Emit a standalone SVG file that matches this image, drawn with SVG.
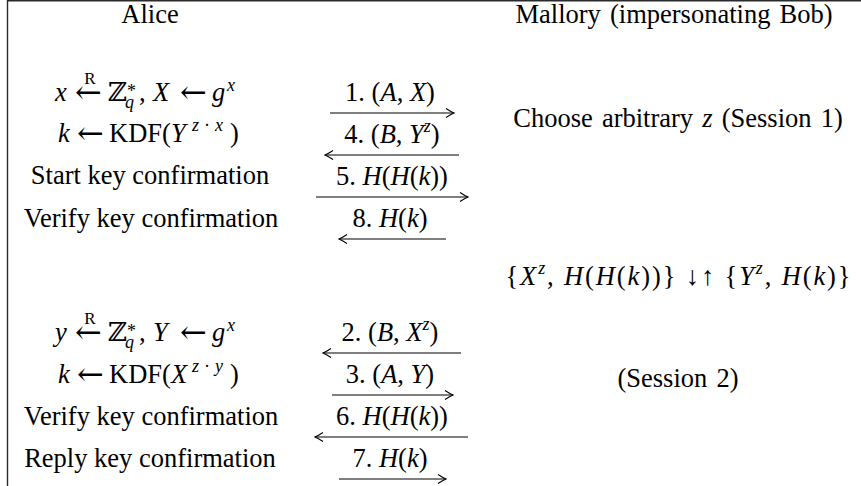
<svg xmlns="http://www.w3.org/2000/svg" width="861" height="486" viewBox="0 0 861 486">
<style>
.t{font-family:"Liberation Serif","DejaVu Serif",serif;font-size:26.5px;fill:#000}
.i{font-style:italic}
.s{font-size:18px}
.r{font-size:17px}
.ar{font-family:"DejaVu Serif",serif;font-size:32px}
.c{text-anchor:middle}
.ws{word-spacing:2.5px}
.ln{stroke:#000;stroke-width:1.1;fill:none;marker-end:url(#tip)}
.frame{stroke:#2a2a2a;stroke-width:1.4}
</style>
<defs>
<marker id="tip" markerUnits="userSpaceOnUse" viewBox="-10 -6 12 12" refX="0" refY="0" markerWidth="12" markerHeight="12" orient="auto">
<path d="M-8,-4.5 Q-3,-1.2 0,0 Q-3,1.2 -8,4.5" stroke="#000" stroke-width="1.1" fill="none"/>
</marker>
</defs>
<rect width="861" height="486" fill="#fff"/>
<g id="frame">
<line class="frame" x1="7" y1="0.7" x2="861" y2="0.7"/>
<line class="frame" x1="7.5" y1="0" x2="7.5" y2="486"/>
</g>

<g id="alice-header"><text class="t c" x="150" y="23">Alice</text></g>
<g id="mallory-header"><text class="t c ws" x="674" y="23">Mallory (impersonating Bob)</text></g>

<g id="alice-s1-choose">
<text class="t" y="101"><tspan class="i" x="55">x</tspan><tspan class="ar" x="75" y="103">←</tspan><tspan x="108" y="101">ℤ</tspan><tspan class="s" x="127" y="97">*</tspan><tspan class="s i" x="125" y="108">q</tspan><tspan x="139" y="101">,</tspan><tspan class="i" x="153">X</tspan><tspan class="ar" x="180" y="103">←</tspan><tspan class="i" x="212" y="101">g</tspan><tspan class="s i" x="227" y="91">x</tspan></text>
<text class="t r c" x="90" y="84">R</text>
</g>
<g id="alice-s1-key">
<text class="t" y="142"><tspan class="i" x="58">k</tspan><tspan class="ar" x="77" y="144">←</tspan><tspan x="109" y="142">KDF(</tspan><tspan class="i" x="171">Y</tspan><tspan class="s i" x="192" y="131">z</tspan><tspan class="s" x="204" y="131">·</tspan><tspan class="s i" x="215" y="131">x</tspan><tspan x="230" y="142">)</tspan></text>
</g>
<g id="alice-s1-start"><text class="t c" x="150" y="184">Start key confirmation</text></g>
<g id="alice-s1-verify"><text class="t c" x="151" y="227">Verify key confirmation</text></g>

<g id="alice-s2-choose">
<text class="t" y="341"><tspan class="i" x="55">y</tspan><tspan class="ar" x="75" y="343">←</tspan><tspan x="108" y="341">ℤ</tspan><tspan class="s" x="127" y="337">*</tspan><tspan class="s i" x="125" y="348">q</tspan><tspan x="139" y="341">,</tspan><tspan class="i" x="153">Y</tspan><tspan class="ar" x="180" y="343">←</tspan><tspan class="i" x="212" y="341">g</tspan><tspan class="s i" x="227" y="331">x</tspan></text>
<text class="t r c" x="90" y="324">R</text>
</g>
<g id="alice-s2-key">
<text class="t" y="383"><tspan class="i" x="58">k</tspan><tspan class="ar" x="77" y="385">←</tspan><tspan x="109" y="383">KDF(</tspan><tspan class="i" x="171">X</tspan><tspan class="s i" x="192" y="372">z</tspan><tspan class="s" x="204" y="372">·</tspan><tspan class="s i" x="215" y="372">y</tspan><tspan x="230" y="383">)</tspan></text>
</g>
<g id="alice-s2-verify"><text class="t c" x="151" y="425">Verify key confirmation</text></g>
<g id="alice-s2-reply"><text class="t c" x="150" y="467">Reply key confirmation</text></g>

<g id="mallory-s1"><text class="t c ws" x="678" y="127">Choose arbitrary <tspan class="i">z</tspan> (Session 1)</text></g>
<g id="mallory-relay"><text class="t c" x="678" y="285" textLength="345" lengthAdjust="spacing">{<tspan class="i">X</tspan><tspan class="s i" dy="-11">z</tspan><tspan dy="11">, </tspan><tspan class="i">H</tspan>(<tspan class="i">H</tspan>(<tspan class="i">k</tspan>))} ↓↑ {<tspan class="i">Y</tspan><tspan class="s i" dy="-11">z</tspan><tspan dy="11">, </tspan><tspan class="i">H</tspan>(<tspan class="i">k</tspan>)}</text></g>
<g id="mallory-s2"><text class="t c ws" x="678" y="387">(Session 2)</text></g>

<g id="connectors">
<g id="m1"><text class="t c" x="390" y="101">1. (<tspan class="i">A</tspan>, <tspan class="i">X</tspan>)</text><line class="ln" x1="330" y1="113" x2="454" y2="113"/></g>
<g id="m4"><text class="t c" x="392" y="143">4. (<tspan class="i">B</tspan>, <tspan class="i">Y</tspan><tspan class="s i" dy="-11">z</tspan><tspan dy="11">)</tspan></text><line class="ln" x1="459" y1="155" x2="325" y2="155"/></g>
<g id="m5"><text class="t c" x="392" y="185">5. <tspan class="i">H</tspan>(<tspan class="i">H</tspan>(<tspan class="i">k</tspan>))</text><line class="ln" x1="316" y1="197" x2="468" y2="197"/></g>
<g id="m8"><text class="t c" x="390" y="227">8. <tspan class="i">H</tspan>(<tspan class="i">k</tspan>)</text><line class="ln" x1="446" y1="239" x2="339" y2="239"/></g>
<g id="m2"><text class="t c" x="390" y="341">2. (<tspan class="i">B</tspan>, <tspan class="i">X</tspan><tspan class="s i" dy="-11">z</tspan><tspan dy="11">)</tspan></text><line class="ln" x1="461" y1="353" x2="323" y2="353"/></g>
<g id="m3"><text class="t c" x="390" y="383">3. (<tspan class="i">A</tspan>, <tspan class="i">Y</tspan>)</text><line class="ln" x1="332" y1="395" x2="453" y2="395"/></g>
<g id="m6"><text class="t c" x="392" y="425">6. <tspan class="i">H</tspan>(<tspan class="i">H</tspan>(<tspan class="i">k</tspan>))</text><line class="ln" x1="468" y1="437" x2="315" y2="437"/></g>
<g id="m7"><text class="t c" x="390" y="467">7. <tspan class="i">H</tspan>(<tspan class="i">k</tspan>)</text><line class="ln" x1="339" y1="479" x2="446" y2="479"/></g>
</g>
</svg>
